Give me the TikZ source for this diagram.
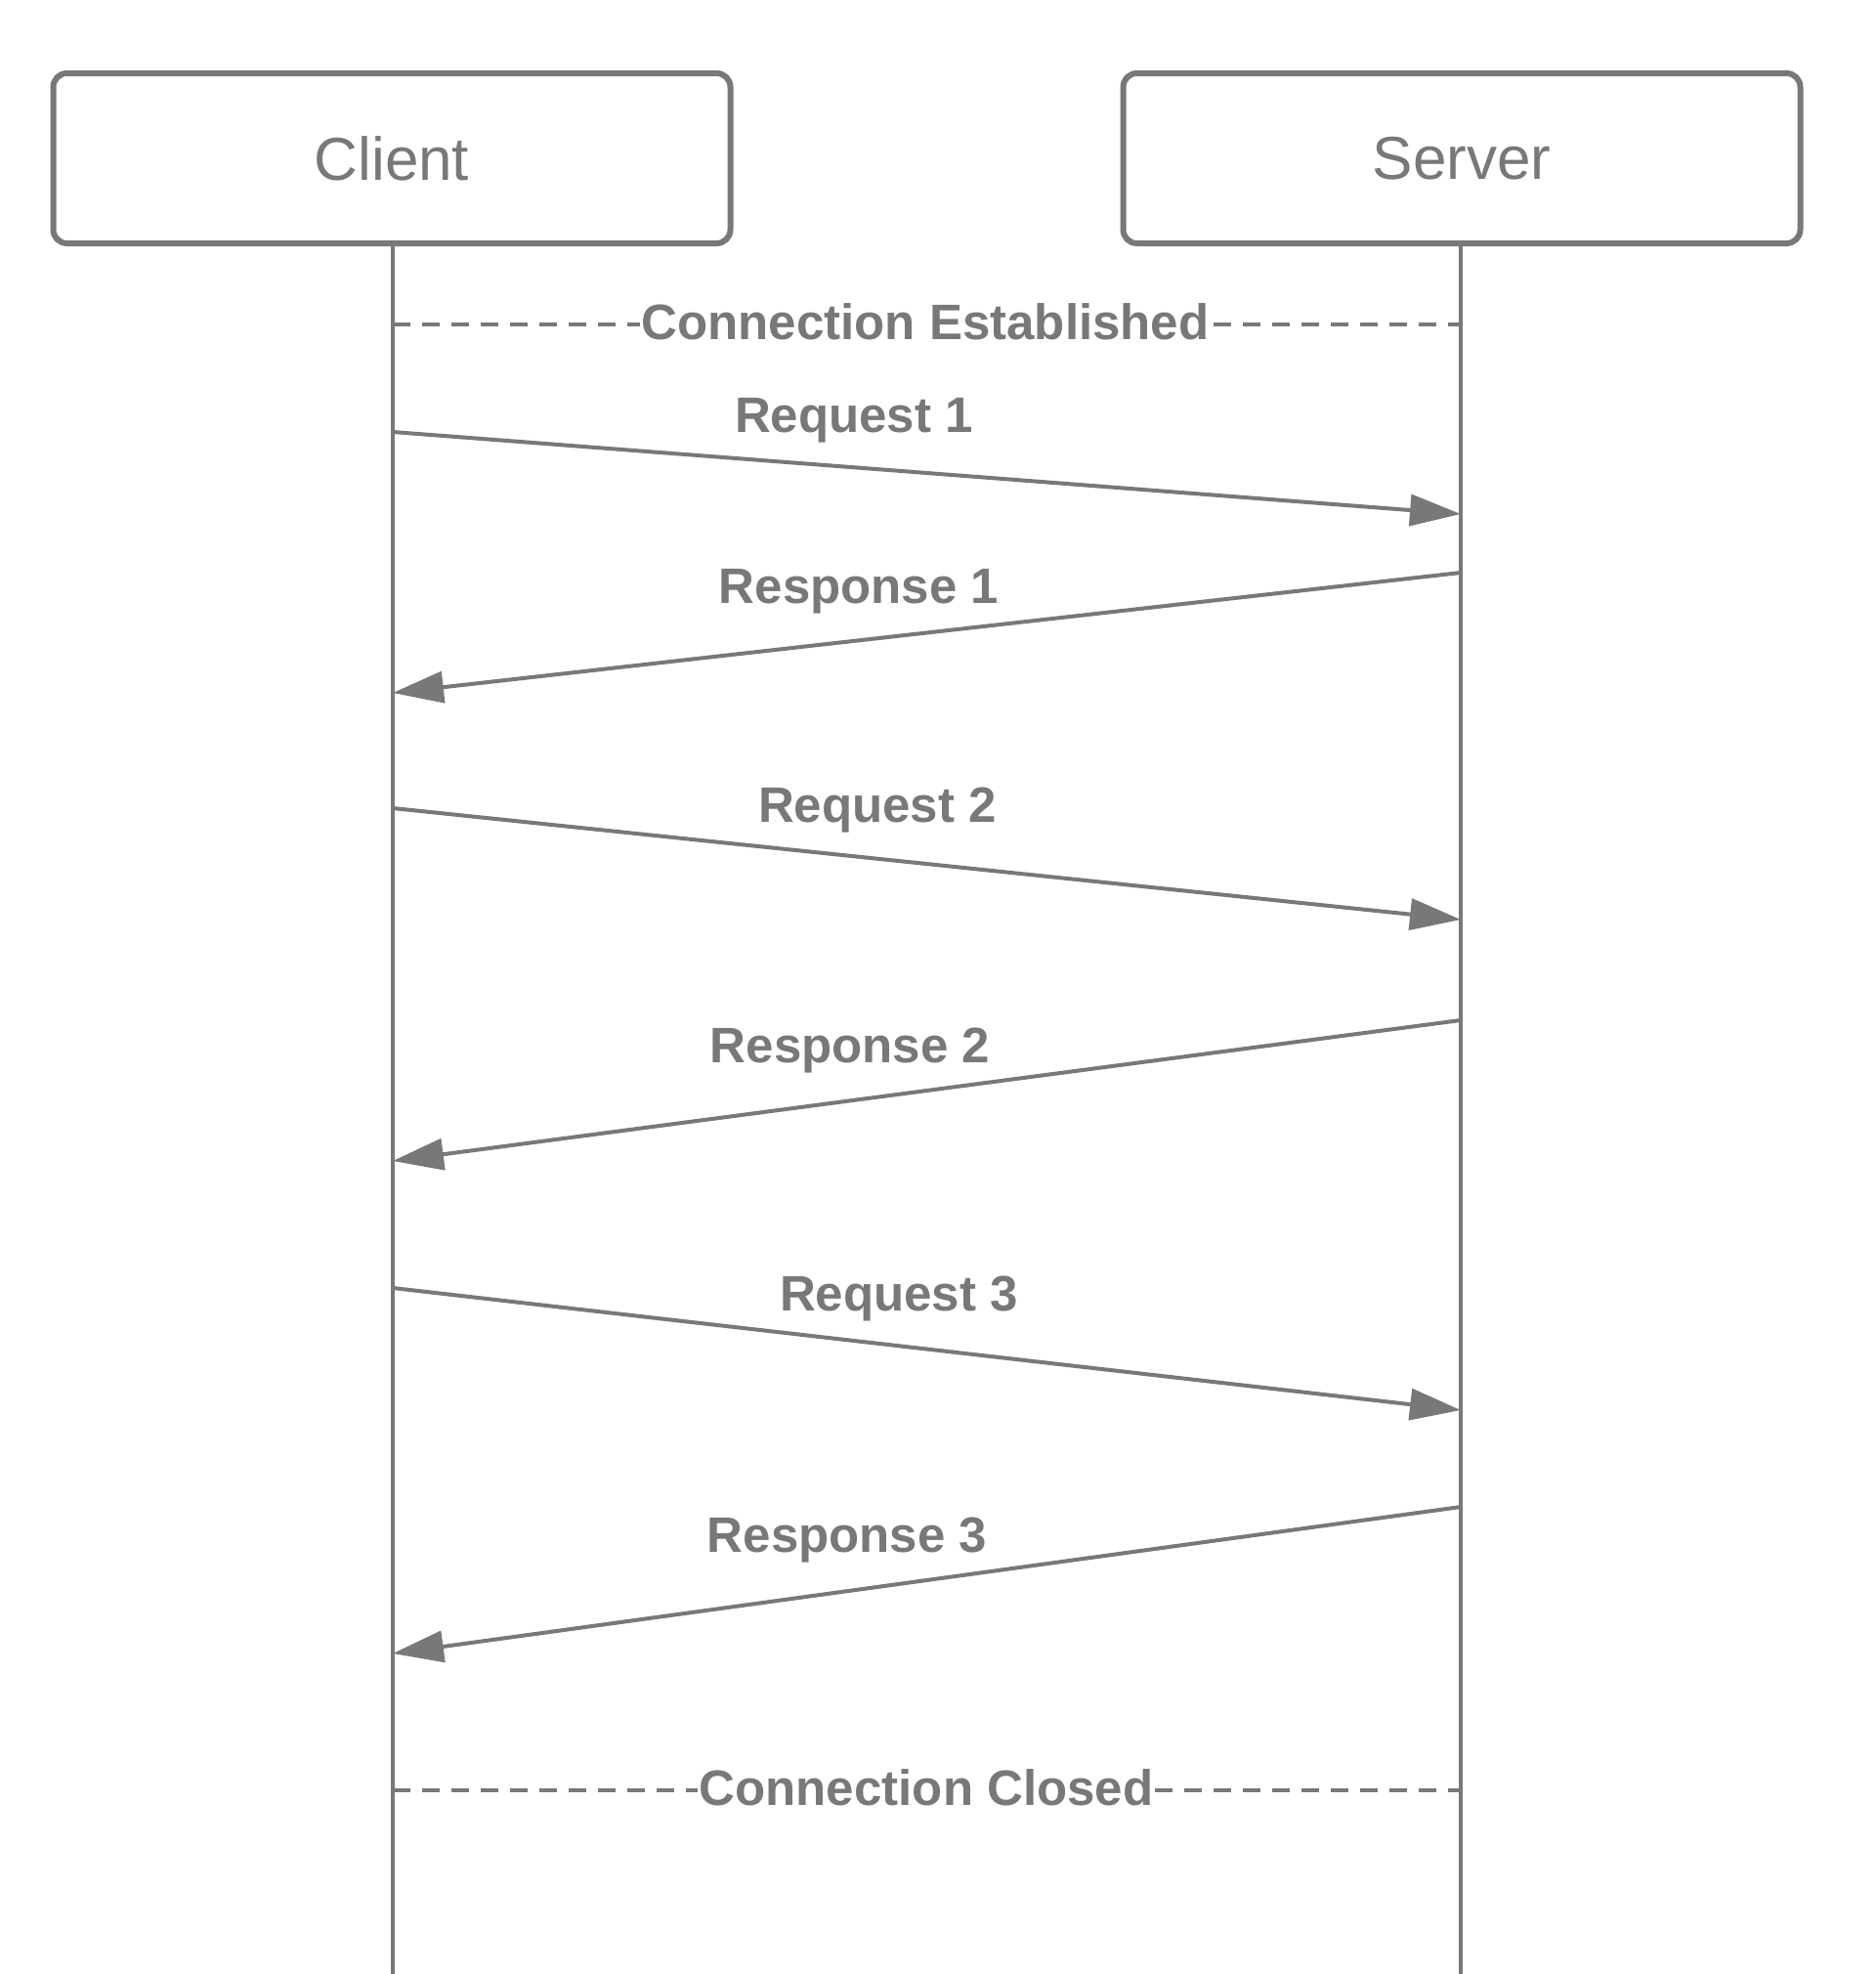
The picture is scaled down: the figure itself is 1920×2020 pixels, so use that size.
\documentclass[tikz,border=0pt]{standalone}
\usepackage{fontspec}
\setmainfont{Liberation Sans}
\usetikzlibrary{arrows.meta}
\definecolor{ln}{HTML}{787878}
\begin{document}
\begin{tikzpicture}[x=0.5pt,y=-0.5pt,
  actor/.style={draw=ln,line width=3pt,rounded corners=7pt,minimum width=346.5pt,minimum height=87pt,text=ln,font=\fontsize{31}{36}\selectfont},
  life/.style={draw=ln,line width=1.8pt},
  msg/.style={draw=ln,line width=2pt,-{Triangle[length=26pt,width=16pt]},fill=ln},
  lbl/.style={text=ln,font=\bfseries\fontsize{25.5}{30}\selectfont,inner sep=1pt},
  sep/.style={draw=ln,line width=2pt,dash pattern=on 9pt off 6pt},
  seplbl/.style={text=ln,font=\bfseries\fontsize{25.5}{30}\selectfont,fill=white,inner sep=1pt}]
\useasboundingbox[fill=white] (0,0) rectangle (1920,2020);
\node[actor] (client) at (401,162) {Client};
\node[actor] (server) at (1496,162) {Server};
\coordinate (cbot) at (402,2020);
\coordinate (sbot) at (1495,2020);
\draw[life] (client.south -| cbot) -- (cbot);
\draw[life] (server.south -| sbot) -- (sbot);
% connection established
\coordinate (ce1) at (402,332);
\coordinate (ce2) at (1495,332);
\draw[sep] (ce1) -- (ce2);
\node[seplbl] (cest) at (947,329) {Connection Established};
% messages
\coordinate (r1a) at (402,442); \coordinate (r1b) at (1495,526);
\coordinate (p1a) at (1495,586); \coordinate (p1b) at (402,709);
\coordinate (r2a) at (402,827); \coordinate (r2b) at (1495,941);
\coordinate (p2a) at (1495,1044); \coordinate (p2b) at (402,1188);
\coordinate (r3a) at (402,1318); \coordinate (r3b) at (1495,1443);
\coordinate (p3a) at (1495,1542); \coordinate (p3b) at (402,1692);
\draw[msg] (r1a) -- (r1b);
\draw[msg] (p1a) -- (p1b);
\draw[msg] (r2a) -- (r2b);
\draw[msg] (p2a) -- (p2b);
\draw[msg] (r3a) -- (r3b);
\draw[msg] (p3a) -- (p3b);
\node[lbl] (l1) at (874,430) {Request 1};
\node[lbl] (l2) at (879,605) {Response 1};
\node[lbl] (l3) at (898,829) {Request 2};
\node[lbl] (l4) at (870,1075) {Response 2};
\node[lbl] (l5) at (920,1329) {Request 3};
\node[lbl] (l6) at (867,1576) {Response 3};
% connection closed
\coordinate (cc1) at (402,1832);
\coordinate (cc2) at (1495,1832);
\draw[sep] (cc1) -- (cc2);
\node[seplbl] (cclo) at (948,1829) {Connection Closed};
\end{tikzpicture}
\end{document}
